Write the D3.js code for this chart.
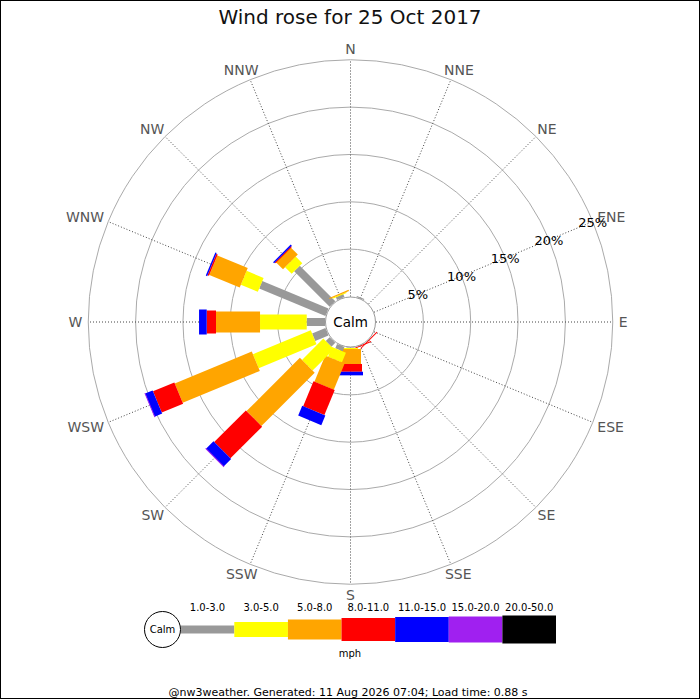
<!DOCTYPE html>
<html><head><meta charset="utf-8">
<script src="https://cdn.jsdelivr.net/npm/d3@7"></script>
<style>
body{margin:0;background:#fff}
svg{display:block;font-family:"DejaVu Sans",sans-serif}
</style>
</head><body>
<svg id="chart" width="700" height="700"></svg>
<script>
// ---------- data ----------
const titleText = "Wind rose for 25 Oct 2017";
const footerText = "@nw3weather. Generated: 11 Aug 2026 07:04; Load time: 0.88 s";
const unitText = "mph";
const directions = ["N","NNE","NE","ENE","E","ESE","SE","SSE","S","SSW","SW","WSW","W","WNW","NW","NNW"];
const speedBands = ["1.0-3.0","3.0-5.0","5.0-8.0","8.0-11.0","11.0-15.0","15.0-20.0","20.0-50.0"];
// percent of time per direction, one array per speed band
const band1to3   = [0,0.1,0,0,0,0,0,0,0.10,0.48,0.58,1.52,1.93,7.57,5.30,0.35];
const band3to5   = [0,0,0,0,0,0,0,0,0.06,1.12,3.18,6.61,4.93,1.94,0.98,0.05];
const band5to8   = [0,0,0,0,0,0,0,0,1.58,2.99,7.96,8.81,4.65,3.47,1.06,0.12];
const band8to11  = [0,0,0,0,0,0,0.1,0.1,0.82,2.85,4.73,2.44,0.98,0.17,0.05,0];
const band11to15 = [0,0,0,0,0,0,0,0,0.38,1.11,1.12,0.86,0.81,0.15,0.16,0];
const band15to20 = [0,0,0,0,0,0,0,0,0,0,0.05,0.05,0,0,0,0];
const band20to50 = [0,0,0,0,0,0,0,0,0,0,0,0,0,0,0,0];
const radialTicks = [5,10,15,20,25];

// ---------- style ----------
const bandColors = ["#999999","#ffff00","#ffa500","#ff0000","#0000ff","#a020f0","#000000"];
const bandWidths = [8,15,21,23,25,26,28];
const legendWidths = [8,15,20,23,25,26,28];

const bands = [band1to3, band3to5, band5to8, band8to11, band11to15, band15to20, band20to50];

const svg = d3.select("#chart");
const cx = 350.5, cy = 322;
const calmR = 25.5;

const r = d3.scaleLinear().domain([0, 25]).range([calmR, 262.25]);
const ang = d3.scalePoint().domain(directions).range([0, 337.5]);

// border
svg.append("rect").attr("x",0.5).attr("y",0.5).attr("width",699).attr("height",698)
  .attr("fill","none").attr("stroke","#000");

// title
svg.append("text").attr("x",350).attr("y",24).attr("text-anchor","middle")
  .attr("font-size",20).attr("fill","#111").text(titleText);

const plot = svg.append("g").attr("transform",`translate(${cx},${cy})`);

// grid circles
plot.selectAll("circle.grid").data(radialTicks).join("circle")
  .attr("class","grid").attr("r", d => r(d))
  .attr("fill","none").attr("stroke","#aaa").attr("stroke-width",1);

// spokes
const rad = d => d * Math.PI / 180;
plot.selectAll("line.spoke").data(directions).join("line")
  .attr("class","spoke")
  .attr("x1", d => Math.sin(rad(ang(d))) * calmR)
  .attr("y1", d => -Math.cos(rad(ang(d))) * calmR)
  .attr("x2", d => Math.sin(rad(ang(d))) * r(25))
  .attr("y2", d => -Math.cos(rad(ang(d))) * r(25))
  .attr("stroke","#444").attr("stroke-width",1).attr("stroke-dasharray","1,2");

// bars
directions.forEach((dir, i) => {
  const g = plot.append("g").attr("transform", `rotate(${ang(dir)})`);
  let cum = 0;
  bands.forEach((arr, b) => {
    const v = arr[i];
    if (v > 0) {
      const r0 = r(cum), r1 = r(cum + v);
      g.append("rect")
        .attr("x", -bandWidths[b] / 2).attr("width", bandWidths[b])
        .attr("y", -r1).attr("height", Math.max(r1 - r0, 1))
        .attr("fill", bandColors[b]);
    }
    cum += v;
  });
});

// calm circle
plot.append("circle").attr("r", 25).attr("fill","#fff").attr("stroke","#999");
plot.append("text").attr("y",5).attr("text-anchor","middle").attr("font-size",13.5)
  .attr("fill","#000").text("Calm");

// direction labels
directions.forEach(dir => {
  const a = rad(ang(dir));
  const ux = Math.sin(a), uy = -Math.cos(a);
  const t = plot.append("text").attr("font-size",14).attr("fill","#555")
    .attr("text-anchor","middle").text(dir);
  const w = t.node().getComputedTextLength();
  const h = 10;
  const R = r(25) + 6;
  const x = ux * R + ux * w / 2;
  const y = uy * R + uy * h / 2;
  t.attr("x", x).attr("y", y + h / 2);
});

// radial tick labels along ENE spoke
const eneA = rad(ang("ENE"));
plot.selectAll("text.tick").data(radialTicks).join("text")
  .attr("class","tick").attr("font-size",13).attr("fill","#000")
  .attr("text-anchor","middle")
  .attr("x", d => Math.sin(eneA) * r(d))
  .attr("y", d => -Math.cos(eneA) * r(d) + 5)
  .text(d => d + "%");

// legend
const lx = d3.scaleBand().domain(speedBands).range([180.7, 556]);
const ly = 629.5;
const leg = svg.append("g");
leg.selectAll("rect").data(speedBands).join("rect")
  .attr("x", d => lx(d)).attr("width", lx.bandwidth())
  .attr("y", (d, i) => ly - legendWidths[i] / 2).attr("height", (d, i) => legendWidths[i])
  .attr("fill", (d, i) => bandColors[i]);
leg.selectAll("text.lab").data(speedBands).join("text")
  .attr("class","lab").attr("x", d => lx(d) + lx.bandwidth() / 2).attr("y", 611)
  .attr("text-anchor","middle").attr("font-size",10).attr("fill","#000").text(d => d);
leg.append("circle").attr("cx",162.5).attr("cy",ly).attr("r",18)
  .attr("fill","#fff").attr("stroke","#000");
leg.append("text").attr("x",162.5).attr("y",633).attr("text-anchor","middle")
  .attr("font-size",10).attr("fill","#000").text("Calm");
leg.append("text").attr("x",350).attr("y",657).attr("text-anchor","middle")
  .attr("font-size",10).attr("fill","#000").text(unitText);

// footer
svg.append("text").attr("x",348).attr("y",696).attr("text-anchor","middle")
  .attr("font-size",11).attr("fill","#000").text(footerText);
</script>
</body></html>
